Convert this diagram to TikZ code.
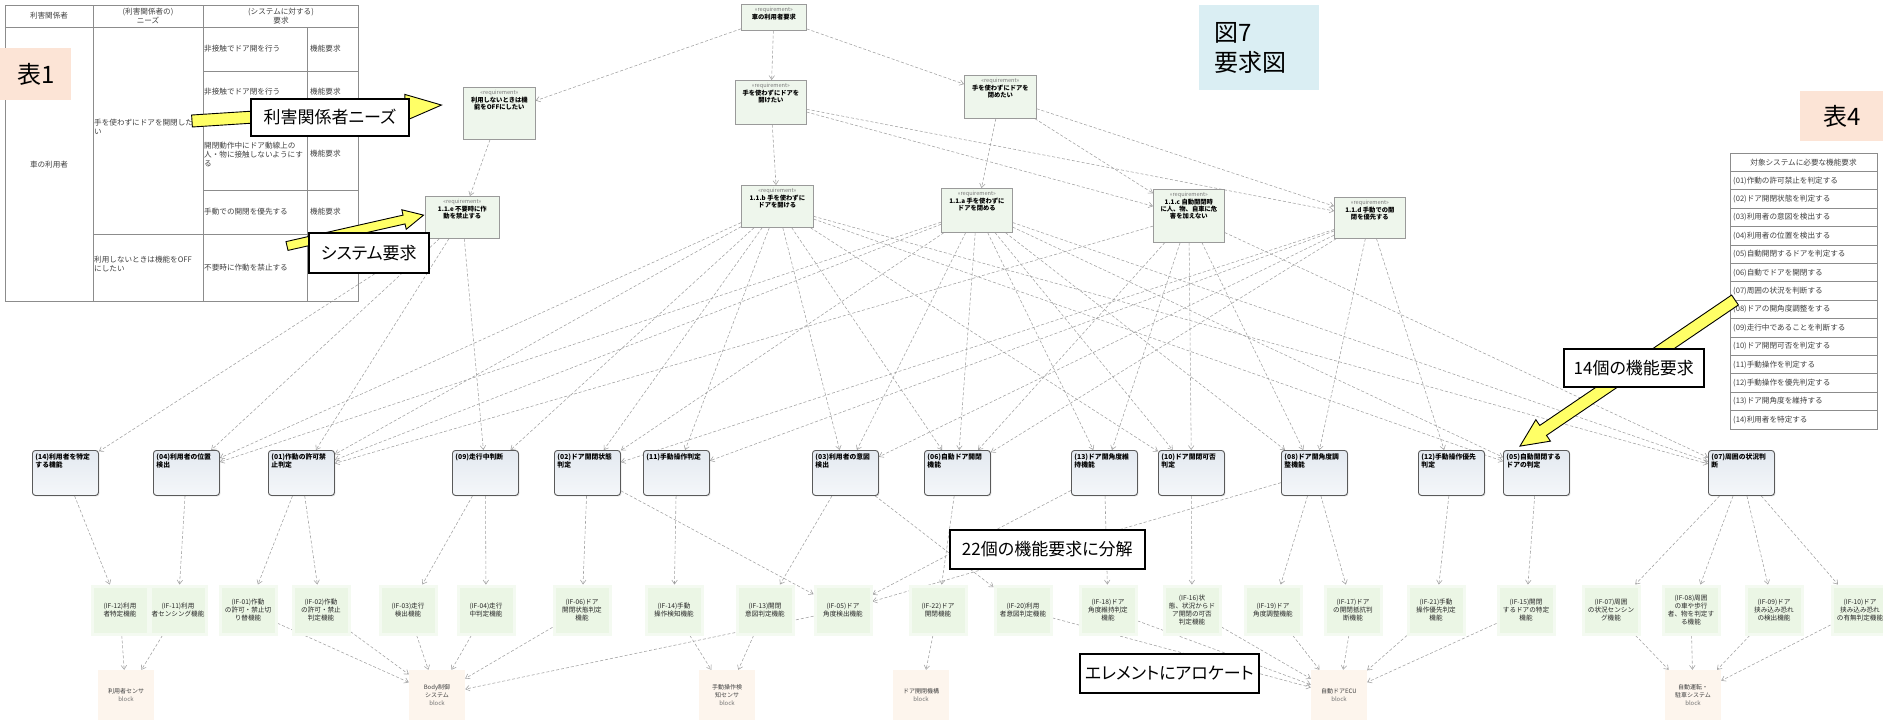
\documentclass[tikz,border=0pt]{standalone}
\usepackage{fontspec}
\setmainfont{Noto Sans CJK JP}
\newfontfamily\callfont{Noto Sans CJK JP}[RawFeature=+palt]
\usetikzlibrary{arrows.meta,shadows}

\pgfdeclarelayer{paper}
\pgfdeclarelayer{links}
\pgfdeclarelayer{notes}
\pgfsetlayers{paper,links,main,notes}

\definecolor{reqfill}{HTML}{EEF6EC}
\definecolor{reqline}{HTML}{9A9A9A}
\definecolor{tagcol}{HTML}{7A7A7A}
\definecolor{fbtop}{HTML}{E3E9F0}
\definecolor{fbbot}{HTML}{F5F7FA}
\definecolor{fbline}{HTML}{5A5A5A}
\definecolor{iffill}{HTML}{EBF6E5}
\definecolor{blkfill}{HTML}{FDF5ED}
\definecolor{edgecol}{HTML}{A0A0A0}
\definecolor{peach}{HTML}{FCE4D6}
\definecolor{skyblue}{HTML}{DAEEF3}
\definecolor{calloutyellow}{HTML}{FFFF66}
\definecolor{tabline}{HTML}{8C8C8C}
\definecolor{tabtext}{HTML}{404040}

% requirement box body: stereotype line, then the name
\newcommand{\reqtext}[3]{\parbox[c][#1][t]{#2}{\centering\fontsize{6.3}{7.4}\selectfont{\color{tagcol}\fontsize{5.6}{7}\selectfont «requirement»}\\{\bfseries #3}}}
% function block body: bold name in the top-left corner
\newcommand{\fbtext}[1]{\parbox[c][39pt][t]{60pt}{\raggedright\fontsize{6.8}{8.2}\selectfont\bfseries #1}}

\begin{document}
\begin{tikzpicture}[x=1pt,y=-1pt,
  tabtxt/.style={font=\fontsize{7.6}{9}\selectfont, text=tabtext, inner sep=0pt, align=left},
  req/.style={draw=reqline, line width=0.7pt, fill=reqfill, inner sep=3pt, anchor=north west,
    drop shadow={shadow xshift=1pt, shadow yshift=-1pt, opacity=0.2}},
  fblk/.style={draw=fbline, line width=0.9pt, rounded corners=3pt, top color=fbtop, bottom color=fbbot,
    inner sep=3pt, anchor=north west, drop shadow={shadow xshift=1pt, shadow yshift=-1pt, opacity=0.25}},
  ifnode/.style={fill=iffill, draw=iffill!55!white, line width=3pt, align=center, text=black!85,
    font=\fontsize{6.6}{7.8}\selectfont, minimum width=56, minimum height=48, inner sep=1pt},
  blknode/.style={fill=blkfill, align=center, text=black!75, font=\fontsize{6}{8}\selectfont,
    minimum width=56, minimum height=50, inner sep=1pt},
  dep/.style={draw=edgecol, line width=0.55pt, dash pattern=on 3pt off 2pt,
    -{Straight Barb[length=4pt,width=5.5pt]}},
  callout/.style={draw=black, line width=1.6pt, fill=white, anchor=north west, inner sep=0pt,
    font=\callfont\fontsize{17}{20}\selectfont},
  yarrow/.style={fill=calloutyellow, draw=black, line width=0.9pt, line join=miter},
  tagbox/.style={anchor=north west, inner sep=0pt, font=\fontsize{24}{30}\selectfont}
]
\useasboundingbox (0,0) rectangle (1883,721);
\begin{pgfonlayer}{paper}
  \fill[white] (0,0) rectangle (1883,721);
\end{pgfonlayer}

% ---------- stakeholder table ----------
\draw[tabline, line width=0.7pt] (5,5) rectangle (358,301);
\draw[tabline, line width=0.7pt] (5,27) -- (358,27)
  (93,5) -- (93,301) (203,5) -- (203,301) (307,27) -- (307,301)
  (203,71) -- (358,71) (203,120) -- (358,120) (203,190) -- (358,190) (93,234) -- (358,234);
\node[tabtxt] (th1) at (49,16) {利害関係者};
\node[tabtxt, align=center] (th2) at (148,16) {(利害関係者の)\\ニーズ};
\node[tabtxt, align=center] (th3) at (281,16) {(システムに対する)\\要求};
\node[tabtxt] (tc1) at (49,165) {車の利用者};
\node[tabtxt, anchor=west] (tn1) at (94,127) {手を使わずにドアを開閉した\\い};
\node[tabtxt, anchor=west] (tn2) at (94,264) {利用しないときは機能をOFF\\にしたい};
\node[tabtxt, anchor=west] (ts1) at (204,49) {非接触でドア開を行う};
\node[tabtxt, anchor=west] (ts2) at (204,92) {非接触でドア閉を行う};
\node[tabtxt, anchor=west] (ts3) at (204,154) {開閉動作中にドア動線上の\\人・物に接触しないようにす\\る};
\node[tabtxt, anchor=west] (ts4) at (204,212) {手動での開閉を優先する};
\node[tabtxt, anchor=west] (ts5) at (204,268) {不要時に作動を禁止する};
\node[tabtxt, anchor=west] (tk1) at (310,49) {機能要求};
\node[tabtxt, anchor=west] (tk2) at (310,92) {機能要求};
\node[tabtxt, anchor=west] (tk3) at (310,154) {機能要求};
\node[tabtxt, anchor=west] (tk4) at (310,212) {機能要求};
\node[tabtxt, anchor=west] (tk5) at (310,268) {機能要求};
\node[tagbox, fill=peach, minimum width=71, minimum height=52] (tab1) at (0,48) {表1};

% ---------- functional requirement table ----------
\draw[tabline, line width=0.7pt] (1730,153) rectangle (1877,429);
\foreach \i in {1,...,14} \draw[tabline, line width=0.7pt] (1730,153+18.4*\i) -- (1877,153+18.4*\i);
\node[tabtxt] (fh) at (1803.5,162.2) {対象システムに必要な機能要求};
\foreach \t [count=\i] in {(01)作動の許可禁止を判定する,(02)ドア開閉状態を判定する,(03)利用者の意図を検出する,
  (04)利用者の位置を検出する,(05)自動開閉するドアを判定する,(06)自動でドアを開閉する,(07)周囲の状況を判断する,
  (08)ドアの開角度調整をする,(09)走行中であることを判断する,(10)ドア開閉可否を判定する,(11)手動操作を判定する,
  (12)手動操作を優先判定する,(13)ドア開角度を維持する,(14)利用者を特定する}
  \node[tabtxt, anchor=west] (fr\i) at (1733,162.2+18.4*\i) {\t};
\node[tagbox, fill=peach, minimum width=83, minimum height=50] (tab4) at (1800,91) {表4};
\node[tagbox, fill=skyblue, minimum width=120, minimum height=85, align=left, text width=90pt] (fig7) at (1199,5) {図7\\要求図};

% ---------- requirements ----------
\node[req] (r0) at (741,4) {\reqtext{20pt}{59pt}{車の利用者要求}};
\node[req] (ra) at (463,87) {\reqtext{46pt}{66pt}{利用しないときは機\\能をOFFにしたい}};
\node[req] (rb) at (735,80) {\reqtext{38pt}{65pt}{手を使わずにドアを\\開けたい}};
\node[req] (rc) at (964,75) {\reqtext{37pt}{66pt}{手を使わずにドアを\\閉めたい}};
\node[req] (re) at (425,196) {\reqtext{36pt}{68pt}{1.1.e 不要時に作\\動を禁止する}};
\node[req] (rb1) at (741,185) {\reqtext{36pt}{66pt}{1.1.b 手を使わずに\\ドアを開ける}};
\node[req] (ra1) at (941,188) {\reqtext{38pt}{65pt}{1.1.a 手を使わずに\\ドアを閉める}};
\node[req] (rc1) at (1153,189) {\reqtext{47pt}{65pt}{1.1.c 自動開閉時\\に人、物、自車に危\\害を加えない}};
\node[req] (rd1) at (1334,197) {\reqtext{35pt}{65pt}{1.1.d 手動での開\\閉を優先する}};

% ---------- functions ----------
\node[fblk] (f14) at (32,450) {\fbtext{(14)利用者を特定\\する機能}};
\node[fblk] (f04) at (153,450) {\fbtext{(04)利用者の位置\\検出}};
\node[fblk] (f01) at (268,450) {\fbtext{(01)作動の許可禁\\止判定}};
\node[fblk] (f09) at (452,450) {\fbtext{(09)走行中判断}};
\node[fblk] (f02) at (554,450) {\fbtext{(02)ドア開閉状態\\判定}};
\node[fblk] (f11) at (643,450) {\fbtext{(11)手動操作判定}};
\node[fblk] (f03) at (812,450) {\fbtext{(03)利用者の意図\\検出}};
\node[fblk] (f06) at (924,450) {\fbtext{(06)自動ドア開閉\\機能}};
\node[fblk] (f13) at (1071,450) {\fbtext{(13)ドア開角度維\\持機能}};
\node[fblk] (f10) at (1158,450) {\fbtext{(10)ドア開閉可否\\判定}};
\node[fblk] (f08) at (1281,450) {\fbtext{(08)ドア開角度調\\整機能}};
\node[fblk] (f12) at (1418,450) {\fbtext{(12)手動操作優先\\判定}};
\node[fblk] (f05) at (1503,450) {\fbtext{(05)自動開閉する\\ドアの判定}};
\node[fblk] (f07) at (1708,450) {\fbtext{(07)周囲の状況判\\断}};

% ---------- interface functions ----------
\node[ifnode] (if12) at (120,610) {(IF-12)利用\\者特定機能};
\node[ifnode] (if11) at (178,610) {(IF-11)利用\\者センシング機能};
\node[ifnode] (if01) at (248,610) {(IF-01)作動\\の許可・禁止切\\り替機能};
\node[ifnode] (if02) at (321,610) {(IF-02)作動\\の許可・禁止\\判定機能};
\node[ifnode] (if03) at (408,610) {(IF-03)走行\\検出機能};
\node[ifnode] (if04) at (486,610) {(IF-04)走行\\中判定機能};
\node[ifnode] (if06) at (582,610) {(IF-06)ドア\\開閉状態判定\\機能};
\node[ifnode] (if14) at (674,610) {(IF-14)手動\\操作検知機能};
\node[ifnode] (if13) at (765,610) {(IF-13)開閉\\意図判定機能};
\node[ifnode] (if05) at (843,610) {(IF-05)ドア\\角度検出機能};
\node[ifnode] (if22) at (938,610) {(IF-22)ドア\\開閉機能};
\node[ifnode] (if20) at (1023,610) {(IF-20)利用\\者意図判定機能};
\node[ifnode] (if18) at (1108,610) {(IF-18)ドア\\角度維持判定\\機能};
\node[ifnode] (if16) at (1192,610) {(IF-16)状\\態、状況からド\\ア開閉の可否\\判定機能};
\node[ifnode] (if19) at (1273,610) {(IF-19)ドア\\角度調整機能};
\node[ifnode] (if17) at (1353,610) {(IF-17)ドア\\の開閉抵抗判\\断機能};
\node[ifnode] (if21) at (1436,610) {(IF-21)手動\\操作優先判定\\機能};
\node[ifnode] (if15) at (1526,610) {(IF-15)開閉\\するドアの特定\\機能};
\node[ifnode] (if07) at (1611,610) {(IF-07)周囲\\の状況センシン\\グ機能};
\node[ifnode] (if08) at (1691,610) {(IF-08)周囲\\の車や歩行\\者、物を判定す\\る機能};
\node[ifnode] (if09) at (1774,610) {(IF-09)ドア\\挟み込み恐れ\\の検出機能};
\node[ifnode] (if10) at (1860,610) {(IF-10)ドア\\挟み込み恐れ\\の有無判定機能};

% ---------- blocks ----------
\node[blknode] (bu) at (126,695) {利用者センサ\\{\color{black!55}block}};
\node[blknode] (bb) at (437,695) {Body制御\\システム\\{\color{black!55}block}};
\node[blknode] (bm) at (727,695) {手動操作検\\知センサ\\{\color{black!55}block}};
\node[blknode] (bd) at (921,695) {ドア開閉機構\\{\color{black!55}block}};
\node[blknode] (be) at (1339,695) {自動ドアECU\\{\color{black!55}block}};
\node[blknode] (ba) at (1693,695) {自動運転・\\駐車システム\\{\color{black!55}block}};

% ---------- dependencies ----------
\begin{pgfonlayer}{links}
\foreach \s/\d in {r0/ra, r0/rb, r0/rc, ra/re, rb/rb1, rb/rc1, rb/rd1, rc/ra1, rc/rc1, rc/rd1,
  re/f14, re/f04, re/f01, re/f09,
  rb1/f04, rb1/f01, rb1/f09, rb1/f02, rb1/f11, rb1/f03, rb1/f06, rb1/f10, rb1/f05, rb1/f07,
  ra1/f04, ra1/f01, ra1/f02, ra1/f03, ra1/f06, ra1/f13, ra1/f10, ra1/f08, ra1/f05, ra1/f07,
  rc1/f01, rc1/f06, rc1/f07, rc1/f08, rc1/f13, rc1/f10,
  rd1/f02, rd1/f11, rd1/f12, rd1/f06, rd1/f08, rd1/f03,
  f14/if12, f04/if11, f01/if01, f01/if02, f09/if03, f09/if04, f02/if06, f02/if05, f11/if14,
  f03/if13, f03/if20, f06/if22, f13/if18, f13/if05, f10/if16, f08/if05, f08/if19, f08/if17,
  f12/if21, f05/if15, f07/if07, f07/if08, f07/if09, f07/if10,
  if12/bu, if11/bu, if01/bb, if02/bb, if03/bb, if04/bb, if06/bb, if05/bb, if14/bm, if13/bm, if22/bd,
  if20/be, if18/be, if16/be, if19/be, if17/be, if21/be, if15/be,
  if07/ba, if08/ba, if09/ba, if10/ba}
  \draw[dep] (\s) -- (\d);
\end{pgfonlayer}

% ---------- callouts ----------
\begin{pgfonlayer}{notes}
  \coordinate (ya0) at (192,121);
  \begin{scope}[shift={(ya0)}, rotate=3.66]
    \draw[yarrow] (0,-6) -- (214,-6) -- (214,-13) -- (250,0) -- (214,13) -- (214,6) -- (0,6) -- cycle;
  \end{scope}
  \coordinate (yb0) at (287,246);
  \begin{scope}[shift={(yb0)}, rotate=12.75]
    \draw[yarrow] (0,-4.5) -- (120,-4.5) -- (120,-10) -- (140,0) -- (120,10) -- (120,4.5) -- (0,4.5) -- cycle;
  \end{scope}
  \coordinate (yc0) at (1735,300);
  \begin{scope}[shift={(yc0)}, rotate=214.2]
    \draw[yarrow] (0,-6) -- (232,-6) -- (232,-13) -- (260,0) -- (232,13) -- (232,6) -- (0,6) -- cycle;
  \end{scope}
  \node[callout, minimum width=158, minimum height=37] (c1) at (250,98) {利害関係者ニーズ};
  \node[callout, minimum width=120, minimum height=40] (c2) at (308,232) {システム要求};
  \node[callout, minimum width=195, minimum height=39] (c3) at (949,529) {22個の機能要求に分解};
  \node[callout, minimum width=179, minimum height=39] (c4) at (1079,653) {エレメントにアロケート};
  \node[callout, minimum width=140, minimum height=38] (c5) at (1563,348) {14個の機能要求};
\end{pgfonlayer}
\end{tikzpicture}
\end{document}
